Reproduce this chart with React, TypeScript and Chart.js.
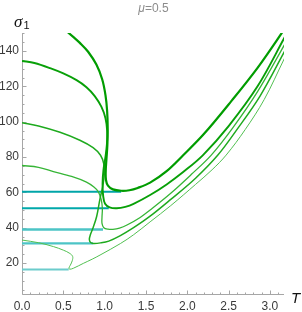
import React, { useEffect, useRef } from "react";
import { Chart, registerables } from "chart.js";

Chart.register(...registerables);

const titleText = "=0.5";
const xTicks = [0, 0.5, 1, 1.5, 2, 2.5, 3];
const yTicks = [20, 40, 60, 80, 100, 120, 140];

// five solution families (T, sigma1), thickest first
const family1: number[][] = [
  [0.545, 151], [0.62, 148], [0.7, 144.6], [0.8, 139.6], [0.9, 132.3], [0.97, 124], [1.01, 115],
  [1.03, 106], [1.037, 96], [1.033, 87], [1.022, 79], [1.013, 72], [1.016, 67], [1.04, 63.8],
  [1.1, 61.7], [1.2, 60.9], [1.3, 61.2], [1.4, 62.5], [1.55, 65.5], [1.75, 72], [1.95, 81],
  [2.2, 93], [2.53, 111.5], [2.85, 130.5], [3.14, 150], [3.2, 154.5],
];
const family2: number[][] = [
  [0, 134.4], [0.15, 133.2], [0.34, 130.3], [0.5, 127.3], [0.66, 123.5], [0.78, 119.5], [0.88, 114.5],
  [0.96, 108.5], [1.01, 102], [1.03, 95], [1.027, 87], [1.008, 79.5], [0.985, 72.5], [0.975, 65],
  [0.982, 58], [1.005, 53.5], [1.06, 51.5], [1.146, 51], [1.25, 51.8], [1.35, 53.5], [1.55, 58.5],
  [1.75, 64.5], [1.95, 71.5], [2.19, 81.1], [2.5, 97.5], [2.85, 120], [3.175, 147.5], [3.22, 151.5],
];
const family3: number[][] = [
  [0, 99.4], [0.2, 97.6], [0.46, 94], [0.7, 89.5], [0.86, 85.3], [0.95, 81], [0.99, 76], [0.995, 70],
  [0.975, 63], [0.944, 56.5], [0.904, 46.5], [0.86, 40], [0.827, 36], [0.815, 33.3], [0.83, 31.6],
  [0.863, 31.1], [0.95, 31.4], [1.05, 32.4], [1.19, 35.5], [1.35, 40], [1.55, 46.5], [1.8, 56],
  [2.1, 68], [2.37, 81.1], [2.6, 95.5], [2.88, 114.5], [3.175, 139.6], [3.22, 143.5],
];
const family4: number[][] = [
  [0, 75.2], [0.2, 74.2], [0.38, 71.8], [0.6, 69], [0.78, 65.8], [0.87, 63], [0.924, 60.3],
  [0.958, 56], [0.972, 51], [0.968, 46], [0.968, 42.5], [0.99, 40], [1.04, 39.2], [1.1, 39.1],
  [1.18, 39.8], [1.27, 41.5], [1.43, 45.8], [1.55, 50], [1.8, 59.5], [2.05, 70.2], [2.29, 81.1],
  [2.55, 96.5], [2.85, 117], [3.175, 143.5], [3.22, 147.3],
];
const family5: number[][] = [
  [0, 33], [0.2, 31.5], [0.38, 29.3], [0.5, 27.3], [0.58, 25.4], [0.613, 23.7], [0.608, 21.3],
  [0.585, 18.8], [0.567, 17.1], [0.578, 16.5], [0.62, 17], [0.742, 19.8], [0.85, 22.2], [0.944, 24.5],
  [1.19, 31], [1.35, 36], [1.55, 43.3], [1.8, 52.5], [2.1, 64.5], [2.3, 72.8], [2.47, 81.1],
  [2.7, 95.5], [2.93, 112.5], [3.175, 135.8], [3.22, 140],
];

// constant (T-independent) branches: level and end temperature
const plateauLevels = [60.4, 51, 39, 31.1, 16.4];
const plateauEnds = [1.2, 1.05, 0.98, 0.86, 0.565];

const families = [family1, family2, family3, family4, family5];
const familyColors = ["#009c00", "#08a008", "#1eaa1e", "#36b536", "#52c052"];
const familyWidths = [2.2, 1.9, 1.5, 1.3, 1.0];
const plateauColors = ["#00a5a8", "#00a8aa", "#4cc4c6", "#4cc4c6", "#6ccccc"];
const plateauWidths = [2, 2, 2.4, 2.4, 2];

const axisPlugin = {
  id: "mmaAxes",
  beforeDatasetsDraw(chart: any) {
    const { ctx, scales } = chart;
    const x = scales.x;
    const y = scales.y;
    const x0 = Math.round(x.getPixelForValue(x.min)) + 0.5;
    const y0 = Math.round(y.getPixelForValue(y.min)) - 0.5;
    ctx.save();
    ctx.strokeStyle = "#a6a6a6";
    ctx.lineWidth = 1;
    ctx.beginPath();
    ctx.moveTo(x0, y0);
    ctx.lineTo(x.right, y0);
    ctx.moveTo(x0, y0);
    ctx.lineTo(x0, y.top);
    for (let i = 0; i <= 31; i++) {
      const v = i / 10;
      const px = Math.round(x.getPixelForValue(v)) + 0.5;
      const len = i % 5 === 0 ? 4 : 2;
      ctx.moveTo(px, y0);
      ctx.lineTo(px, y0 - len);
    }
    for (let v = 5; v <= 150; v += 5) {
      const py = Math.round(y.getPixelForValue(v)) + 0.5;
      const len = v % 20 === 0 ? 4 : 2;
      ctx.moveTo(x0, py);
      ctx.lineTo(x0 + len, py);
    }
    ctx.stroke();
    ctx.restore();
  },
  afterDraw(chart: any) {
    const { ctx } = chart;
    ctx.save();
    ctx.fillStyle = "#8c8c8c";
    ctx.textBaseline = "alphabetic";
    ctx.font = "italic 12px 'Liberation Sans'";
    const muW = ctx.measureText("μ").width;
    ctx.font = "12px 'Liberation Sans'";
    const restW = ctx.measureText(titleText).width;
    const start = 153.5 - (muW + restW) / 2;
    ctx.font = "italic 12px 'Liberation Sans'";
    ctx.fillText("μ", start, 12);
    ctx.font = "12px 'Liberation Sans'";
    ctx.fillText(titleText, start + muW, 12);

    ctx.fillStyle = "#111";
    ctx.font = "italic 17px 'Liberation Serif'";
    ctx.fillText("σ", 14, 27);
    ctx.font = "11px 'Liberation Sans'";
    ctx.fillText("1", 23.5, 29);
    ctx.font = "italic 15px 'Liberation Sans'";
    ctx.fillText("T", 291, 303);
    ctx.restore();
  },
};

export default function App() {
  const ref = useRef<HTMLCanvasElement | null>(null);
  useEffect(() => {
    document.body.style.margin = "0";
    const canvas = ref.current;
    if (!canvas) return;
    const datasets: any[] = [];
    families.forEach((f, i) => {
      datasets.push({
        data: f.map(([t, s]) => ({ x: t, y: s })),
        borderColor: familyColors[i],
        borderWidth: familyWidths[i],
        showLine: true,
        pointRadius: 0,
        tension: 0.35,
        fill: false,
      });
    });
    plateauLevels.forEach((lvl, i) => {
      datasets.push({
        data: [
          { x: 0, y: lvl },
          { x: plateauEnds[i], y: lvl },
        ],
        borderColor: plateauColors[i],
        borderWidth: plateauWidths[i],
        showLine: true,
        pointRadius: 0,
        tension: 0,
        fill: false,
      });
    });
    const chart = new Chart(canvas, {
      type: "scatter",
      data: { datasets },
      options: {
        animation: false,
        responsive: false,
        devicePixelRatio: 1,
        layout: { padding: { top: 33, right: 18, left: 0, bottom: 0 } },
        plugins: { legend: { display: false }, title: { display: false }, tooltip: { enabled: false } },
        scales: {
          x: {
            type: "linear",
            min: 0,
            max: 3.17,
            grid: { display: false, drawTicks: false },
            border: { display: false },
            afterBuildTicks: (axis: any) => {
              axis.ticks = xTicks.map((v) => ({ value: v }));
            },
            afterFit: (axis: any) => {
              axis.height = 17;
            },
            ticks: {
              autoSkip: false,
              maxRotation: 0,
              padding: 4,
              color: "#3a3a3a",
              font: { family: "'Liberation Sans'", size: 12 },
              callback: (v: any) => Number(v).toFixed(1),
            },
          },
          y: {
            type: "linear",
            min: 1.9,
            max: 150.2,
            grid: { display: false, drawTicks: false },
            border: { display: false },
            afterBuildTicks: (axis: any) => {
              axis.ticks = yTicks.map((v) => ({ value: v }));
            },
            afterFit: (axis: any) => {
              axis.width = 22;
            },
            ticks: {
              autoSkip: false,
              padding: 3,
              color: "#3a3a3a",
              font: { family: "'Liberation Sans'", size: 12 },
              callback: (v: any) => String(v),
            },
          },
        },
      },
      plugins: [axisPlugin],
    });
    return () => chart.destroy();
  }, []);
  return (
    <div style={{ width: 302, height: 312 }}>
      <canvas ref={ref} width={302} height={312} style={{ width: 302, height: 312, display: "block" }} />
    </div>
  );
}
